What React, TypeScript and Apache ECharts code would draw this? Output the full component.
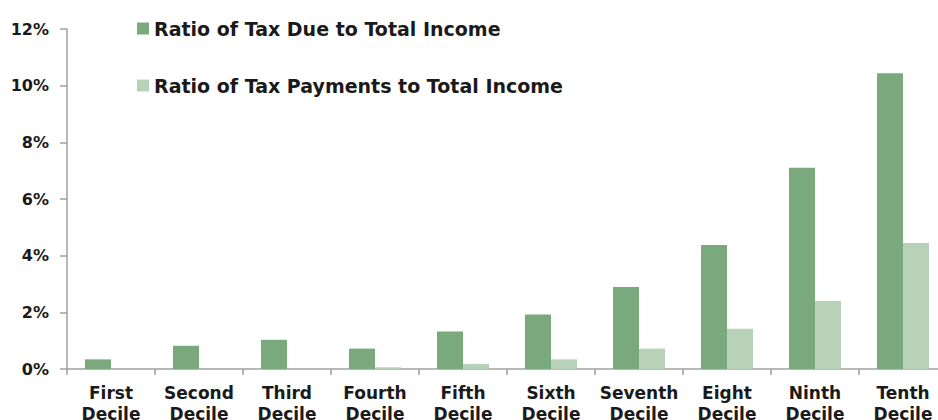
import React, { useEffect, useRef } from "react";
import * as echarts from "echarts";

const categories = [
  "First\nDecile",
  "Second\nDecile",
  "Third\nDecile",
  "Fourth\nDecile",
  "Fifth\nDecile",
  "Sixth\nDecile",
  "Seventh\nDecile",
  "Eight\nDecile",
  "Ninth\nDecile",
  "Tenth\nDecile",
];
const taxDue = [0.34, 0.82, 1.03, 0.72, 1.32, 1.92, 2.89, 4.38, 7.1, 10.44];
const taxPayments = [0, 0, 0, 0.06, 0.18, 0.34, 0.72, 1.42, 2.4, 4.45];
const seriesNames = [
  "Ratio of Tax Due to Total Income",
  "Ratio of Tax Payments to Total Income",
];

const FONT = "DejaVu Sans";
const TEXT = "#1a1a1a";
const DARK = "#7aa97e";
const LIGHT = "#b8d2b9";

export default function App() {
  const ref = useRef<HTMLDivElement>(null);
  useEffect(() => {
    if (!ref.current) return;
    const chart = echarts.init(ref.current, null, { renderer: "svg" });
    const legendText = {
      fontFamily: FONT,
      fontWeight: "bold",
      fontSize: 19,
      color: TEXT,
    };
    chart.setOption({
      animation: false,
      backgroundColor: "#ffffff",
      legend: [
        {
          data: [seriesNames[0]],
          left: 132,
          top: 14,
          icon: "rect",
          itemWidth: 12,
          itemHeight: 12,
          itemGap: 0,
          textStyle: legendText,
          selectedMode: false,
        },
        {
          data: [seriesNames[1]],
          left: 132,
          top: 71,
          icon: "rect",
          itemWidth: 12,
          itemHeight: 12,
          itemGap: 0,
          textStyle: legendText,
          selectedMode: false,
        },
      ],
      grid: {
        left: 67,
        top: 29,
        width: 880,
        height: 340,
        containLabel: false,
        outerBoundsMode: "none",
      },
      xAxis: {
        type: "category",
        data: categories,
        axisLine: { lineStyle: { color: "#a0a0a0", width: 1.5 } },
        axisTick: { show: true, length: 6, lineStyle: { color: "#a0a0a0", width: 1.5 } },
        axisLabel: {
          fontFamily: FONT,
          fontWeight: "bold",
          fontSize: 17,
          color: TEXT,
          lineHeight: 21,
          margin: 13,
          interval: 0,
        },
      },
      yAxis: {
        type: "value",
        min: 0,
        max: 12,
        interval: 2,
        splitLine: { show: false },
        axisLine: { show: true, lineStyle: { color: "#a0a0a0", width: 1.5 } },
        axisTick: { show: true, length: 7, lineStyle: { color: "#a0a0a0", width: 1.5 } },
        axisLabel: {
          formatter: "{value}%",
          fontFamily: FONT,
          fontWeight: "bold",
          fontSize: 16,
          color: TEXT,
          margin: 18,
        },
      },
      series: [
        {
          name: seriesNames[0],
          type: "bar",
          data: taxDue,
          barWidth: 26,
          barGap: "0%",
          itemStyle: { color: DARK },
        },
        {
          name: seriesNames[1],
          type: "bar",
          data: taxPayments,
          barWidth: 26,
          barGap: "0%",
          itemStyle: { color: LIGHT },
        },
      ],
    });
    return () => chart.dispose();
  }, []);
  return (
    <div
      ref={ref}
      style={{ position: "fixed", left: 0, top: 0, width: 938, height: 420 }}
    />
  );
}
